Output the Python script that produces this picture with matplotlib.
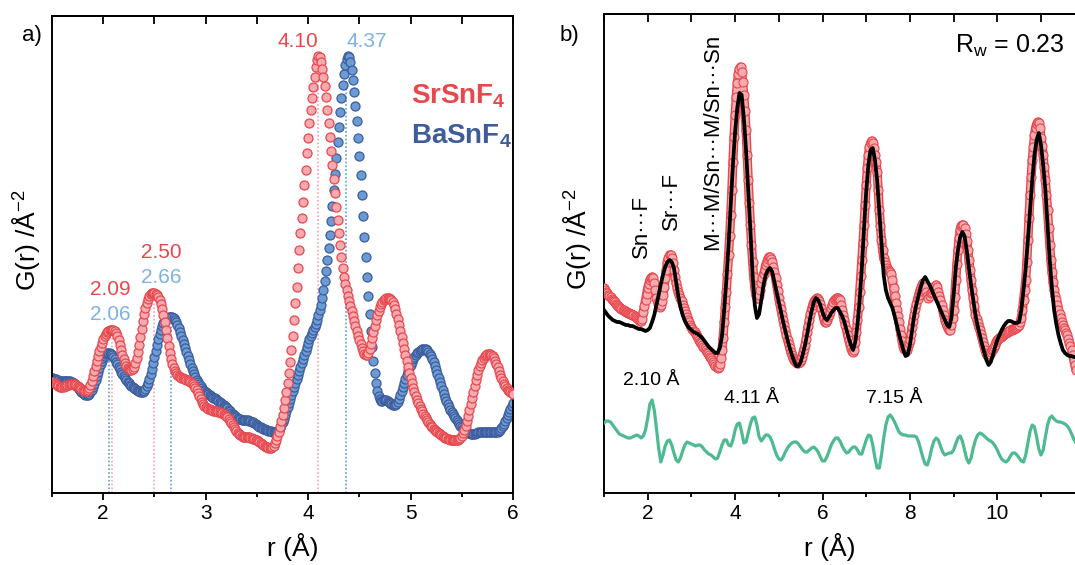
import numpy as np
import matplotlib
matplotlib.use("Agg")
import matplotlib.pyplot as plt

plt.rcParams['font.family'] = ['Liberation Sans', 'DejaVu Sans']
plt.rcParams['mathtext.fontset'] = 'custom'
plt.rcParams['mathtext.rm'] = 'Liberation Sans'
plt.rcParams['mathtext.it'] = 'Liberation Sans:italic'
plt.rcParams['mathtext.bf'] = 'Liberation Sans:bold'
plt.rcParams['mathtext.default'] = 'regular'

# ---------------- panel a data (r from 1.5 in steps of 0.0125 A) ----------------
r_a_start, r_a_step = 1.5, 0.0125
G_srsnf4 = [
    11.1, 11.1, 11.0, 10.9, 10.8, 10.7, 10.6, 10.6, 10.6, 10.6,
    10.7, 10.7, 10.8, 10.8, 10.9, 10.9, 10.9, 10.9, 10.9, 10.8,
    10.7, 10.6, 10.5, 10.4, 10.3, 10.2, 10.2, 10.2, 10.3, 10.5,
    10.8, 11.2, 11.7, 12.2, 12.7, 13.2, 13.7, 14.2, 14.6, 15.0,
    15.4, 15.7, 15.9, 16.1, 16.2, 16.3, 16.3, 16.3, 16.3, 16.2,
    16.0, 15.7, 15.3, 14.8, 14.3, 13.8, 13.4, 13.0, 12.7, 12.5,
    12.4, 12.3, 12.3, 12.4, 12.6, 13.0, 13.5, 14.1, 14.8, 15.6,
    16.4, 17.2, 17.9, 18.5, 19.0, 19.4, 19.7, 19.9, 20.0, 20.0,
    20.0, 19.9, 19.8, 19.6, 19.3, 18.9, 18.4, 17.8, 17.1, 16.3,
    15.5, 14.7, 14.0, 13.4, 12.9, 12.5, 12.2, 12.0, 11.8, 11.7,
    11.6, 11.5, 11.5, 11.4, 11.4, 11.3, 11.3, 11.2, 11.1, 11.0,
    10.9, 10.7, 10.5, 10.3, 10.0, 9.7, 9.4, 9.1, 8.9, 8.7,
    8.6, 8.5, 8.4, 8.4, 8.3, 8.3, 8.2, 8.2,
    8.2, 8.2, 8.1, 8.1, 8.0, 8.0, 7.9, 7.8,
    7.7, 7.6, 7.4, 7.2, 7.0, 6.8, 6.6, 6.4, 6.2, 6.0,
    5.9, 5.8, 5.7, 5.6, 5.6, 5.6, 5.6, 5.6, 5.6, 5.5,
    5.5, 5.4, 5.4, 5.3, 5.3, 5.2, 5.1, 5.0, 4.9, 4.8,
    4.7, 4.6, 4.6, 4.5, 4.5, 4.5, 4.6, 4.7, 5.0, 5.3,
    5.7, 6.1, 6.6, 7.2, 7.8, 8.5, 9.3, 10.1, 11.0, 12.0,
    13.1, 14.3, 15.7, 17.3, 19.0, 20.6, 22.5, 24.3, 26.0, 27.5,
    29.1, 30.8, 32.3, 34.0, 35.5, 37.0, 38.3, 39.5, 40.6, 41.6,
    42.6, 43.3, 43.7, 43.6, 43.1, 42.4, 41.6, 40.7, 39.6, 38.3,
    37.0, 35.6, 34.2, 32.8, 31.4, 30.0, 28.6, 27.3, 26.0, 24.8,
    23.6, 22.5, 21.6, 20.9, 20.3, 19.7, 19.2, 18.7, 18.2, 17.7,
    17.2, 16.7, 16.2, 15.7, 15.3, 14.9, 14.5, 14.2, 13.9, 13.8,
    13.8, 14.0, 14.4, 14.9, 15.5, 16.1, 16.7, 17.3, 17.8, 18.2,
    18.6, 18.9, 19.1, 19.3, 19.4, 19.5, 19.5, 19.5, 19.4, 19.3,
    19.1, 18.8, 18.4, 17.9, 17.4, 16.8, 16.2, 15.6, 15.0, 14.4,
    13.8, 13.2, 12.6, 12.0, 11.5, 11.0, 10.5, 10.1, 9.7, 9.3,
    9.0, 8.7, 8.4, 8.2, 7.9, 7.7, 7.5, 7.3, 7.1, 6.9,
    6.7, 6.6, 6.4, 6.3, 6.2, 6.1, 6.0, 5.9, 5.8, 5.7,
    5.6, 5.5, 5.5, 5.4, 5.4, 5.3, 5.3, 5.3, 5.3, 5.3,
    5.3, 5.3, 5.4, 5.5, 5.7, 6.0, 6.3, 6.7, 7.2, 7.7,
    8.3, 8.9, 9.5, 10.1, 10.7, 11.3, 11.8, 12.3, 12.7, 13.0,
    13.3, 13.5, 13.7, 13.8, 13.9, 13.9, 13.9, 13.8, 13.7, 13.5,
    13.2, 12.9, 12.6, 12.2, 11.8, 11.5, 11.2, 10.9, 10.7, 10.5,
    10.3, 10.2, 10.1, 10.0, 9.9,
]
G_basnf4 = [
    11.5, 11.5, 11.4, 11.4, 11.3, 11.3, 11.2, 11.2, 11.2, 11.2,
    11.2, 11.2, 11.2, 11.2, 11.2, 11.1, 11.1, 11.0, 10.9, 10.7,
    10.6, 10.4, 10.3, 10.1, 10.0, 9.9, 9.8, 9.8, 9.8, 9.9,
    10.1, 10.3, 10.6, 10.9, 11.3, 11.7, 12.1, 12.5, 12.9, 13.2,
    13.5, 13.7, 13.9, 14.0, 14.0, 14.0, 13.9, 13.8, 13.6, 13.4,
    13.1, 12.9, 12.6, 12.4, 12.1, 11.9, 11.7, 11.5, 11.3, 11.1,
    11.0, 10.8, 10.7, 10.6, 10.5, 10.4, 10.3, 10.2, 10.2, 10.1,
    10.1, 10.1, 10.2, 10.4, 10.7, 11.0, 11.4, 11.9, 12.4, 13.0,
    13.6, 14.2, 14.8, 15.4, 15.9, 16.3, 16.7, 17.0, 17.2, 17.4,
    17.5, 17.6, 17.6, 17.6, 17.6, 17.5, 17.3, 17.1, 16.8, 16.5,
    16.1, 15.7, 15.3, 14.9, 14.5, 14.1, 13.7, 13.3, 12.9, 12.5,
    12.2, 11.9, 11.6, 11.3, 11.1, 10.9, 10.7, 10.5, 10.3, 10.2,
    10.1, 10.0, 9.9, 9.8, 9.7, 9.6, 9.5, 9.5, 9.4, 9.3,
    9.2, 9.1, 9.0, 8.9, 8.8, 8.7, 8.6, 8.5, 8.3, 8.2,
    8.0, 7.9, 7.8, 7.7, 7.6, 7.5, 7.4, 7.4, 7.3, 7.3,
    7.3, 7.3, 7.3, 7.3, 7.2, 7.2, 7.1, 7.1, 7.0, 6.9,
    6.8, 6.7, 6.6, 6.6, 6.5, 6.4, 6.4, 6.3, 6.3, 6.2,
    6.2, 6.2, 6.1, 6.1, 6.1, 6.1, 6.2, 6.3, 6.5, 6.8,
    7.1, 7.4, 7.8, 8.2, 8.6, 9.0, 9.4, 9.8, 10.2, 10.6,
    11.0, 11.4, 11.8, 12.2, 12.6, 13.0, 13.4, 13.8, 14.2, 14.6,
    15.0, 15.4, 15.7, 16.0, 16.3, 16.6, 16.9, 17.3, 17.8, 18.3,
    18.8, 19.5, 20.3, 21.2, 22.2, 23.3, 24.5, 25.8, 27.2, 28.7,
    30.3, 31.9, 33.5, 35.1, 36.6, 38.1, 39.5, 40.8, 41.9, 42.8,
    43.4, 43.7, 43.6, 43.1, 42.3, 41.3, 40.1, 38.7, 37.2, 35.5,
    33.7, 31.8, 29.8, 27.7, 25.6, 23.6, 21.6, 19.7, 17.9, 16.2,
    14.6, 13.2, 12.0, 11.0, 10.2, 9.7, 9.4, 9.2, 9.2, 9.3,
    9.3, 9.3, 9.2, 9.1, 9.0, 8.9, 8.8, 8.8, 8.8, 8.9,
    9.1, 9.4, 9.8, 10.2, 10.6, 11.0, 11.4, 11.8, 12.2, 12.5,
    12.8, 13.1, 13.4, 13.6, 13.8, 14.0, 14.1, 14.2, 14.3, 14.4,
    14.4, 14.4, 14.4, 14.3, 14.1, 13.9, 13.7, 13.4, 13.1, 12.7,
    12.3, 11.9, 11.5, 11.1, 10.7, 10.3, 9.9, 9.5, 9.2, 8.9,
    8.6, 8.3, 8.1, 7.9, 7.7, 7.5, 7.3, 7.1, 6.9, 6.7,
    6.6, 6.4, 6.3, 6.2, 6.1, 6.0, 6.0, 5.9, 5.9, 5.9,
    5.9, 6.0, 6.0, 6.1, 6.1, 6.1, 6.1, 6.1, 6.1, 6.1,
    6.1, 6.1, 6.1, 6.1, 6.1, 6.1, 6.1, 6.1, 6.1, 6.2,
    6.3, 6.5, 6.7, 6.9, 7.2, 7.5, 7.8, 8.1, 8.4, 8.7,
    9.0,
]
peaks_sr = [2.09, 2.50, 4.10]
peaks_ba = [2.06, 2.66, 4.37]
peak_labels_sr = ["2.09", "2.50", "4.10"]
peak_labels_ba = ["2.06", "2.66", "4.37"]

# ---------------- panel b data ----------------
rb_obs_start, rb_obs_step = 1.0, 0.025
G_obs = [
    20.5, 20.3, 20.1, 20.0, 19.8, 19.7, 19.6, 19.4,
    19.3, 19.2, 19.1, 18.9, 18.8, 18.7, 18.6, 18.5,
    18.4, 18.3, 18.3, 18.2, 18.1, 18.1, 18.0, 18.0,
    17.9, 17.9, 17.8, 17.8, 17.7, 17.6, 17.5, 17.4,
    17.3, 17.2, 17.2, 17.4, 18.1, 18.7, 19.3, 19.9,
    20.5, 20.9, 21.3, 21.5, 21.6, 21.5, 21.0, 20.3,
    19.5, 19.1, 18.7, 18.6, 18.8, 19.2, 19.8, 20.6,
    21.5, 22.3, 23.1, 23.5, 23.8, 23.8, 23.5, 23.0,
    22.3, 21.6, 21.0, 20.5, 20.1, 19.8, 19.5, 19.2,
    18.8, 18.5, 18.2, 17.9, 17.6, 17.3, 17.1, 16.8,
    16.6, 16.4, 16.2, 16.1, 15.9, 15.7, 15.5, 15.3,
    15.1, 15.0, 14.8, 14.6, 14.5, 14.3, 14.1, 14.0,
    13.8, 13.6, 13.5, 13.3, 13.1, 12.9, 12.7, 12.6,
    12.5, 12.6, 12.9, 13.5, 14.3, 15.5, 17.1, 18.6,
    20.1, 21.9, 23.8, 25.7, 27.8, 30.3, 33.1, 35.6,
    37.8, 39.6, 41.0, 41.9, 42.4, 42.6, 42.1, 41.1,
    39.8, 38.2, 36.3, 33.8, 31.3, 29.0, 26.8, 24.8,
    23.1, 21.6, 20.5, 19.8, 19.5, 19.5, 19.8, 20.3,
    21.0, 21.5, 21.9, 22.3, 22.8, 23.1, 23.4, 23.6,
    23.6, 23.4, 23.1, 22.6, 22.1, 21.5, 20.8, 20.2,
    19.5, 18.9, 18.4, 17.8, 17.3, 16.8, 16.3, 15.8,
    15.3, 14.9, 14.5, 14.1, 13.8, 13.5, 13.3, 13.2,
    13.1, 13.0, 13.0, 13.1, 13.3, 13.6, 14.0, 14.4,
    14.8, 15.4, 16.1, 16.7, 17.3, 17.9, 18.4, 18.8,
    19.1, 19.3, 19.4, 19.5, 19.4, 19.2, 18.9, 18.5,
    18.0, 17.5, 17.1, 17.1, 17.3, 17.6, 17.8, 18.1,
    18.5, 18.8, 19.1, 19.3, 19.4, 19.5, 19.5, 19.4,
    19.3, 18.8, 18.3, 17.8, 17.3, 16.8, 16.3, 15.8,
    15.3, 14.9, 14.5, 14.2, 14.1, 14.3, 15.1, 16.1,
    17.3, 18.6, 20.1, 21.7, 23.3, 25.0, 26.8, 28.8,
    30.8, 32.5, 33.8, 34.6, 35.0, 35.2, 35.0, 34.5,
    33.8, 33.1, 32.1, 30.3, 28.3, 26.7, 25.3, 24.3,
    23.5, 23.1, 22.8, 22.5, 22.3, 22.2, 22.1, 21.9,
    21.3, 20.5, 19.7, 19.0, 18.3, 17.7, 17.1, 16.4,
    15.8, 15.2, 14.7, 14.4, 14.3, 14.3, 14.7, 15.0,
    15.3, 15.9, 16.6, 17.2, 17.8, 18.4, 18.9, 19.4,
    19.8, 20.2, 20.5, 20.8, 21.0, 20.9, 20.6, 20.1,
    19.7, 19.5, 19.7, 20.0, 20.1, 20.3, 20.5, 20.7,
    20.8, 20.6, 20.1, 19.7, 19.3, 18.8, 18.3, 17.8,
    17.3, 17.0, 16.7, 16.5, 16.3, 16.3, 16.8, 17.5,
    18.3, 19.6, 21.3, 22.9, 24.3, 25.5, 26.3, 26.7,
    26.8, 26.8, 26.5, 25.9, 25.2, 24.3, 23.3, 22.3,
    21.3, 20.3, 19.5, 18.7, 17.8, 17.4, 17.0, 16.6,
    16.3, 15.9, 15.5, 15.1, 14.7, 14.3, 14.0, 13.8,
    13.8, 13.9, 14.1, 14.3, 14.4, 14.6, 14.8, 15.1,
    15.3, 15.4, 15.5, 15.6, 15.7, 15.8, 15.9, 16.0,
    16.0, 16.1, 16.1, 16.2, 16.3, 16.3, 16.4, 16.4,
    16.5, 16.5, 16.6, 16.7, 16.8, 17.1, 17.5, 18.3,
    19.3, 20.3, 21.3, 23.1, 25.3, 27.5, 29.8, 31.6,
    33.3, 34.6, 35.8, 36.5, 36.9, 37.1, 37.0, 36.5,
    35.5, 34.7, 33.8, 32.6, 31.3, 29.8, 28.3, 26.5,
    24.8, 23.3, 22.1, 21.1, 20.3, 19.7, 19.3, 18.8,
    18.3, 17.9, 17.5, 17.1, 16.8, 16.5, 16.3, 16.0,
    15.8, 15.4, 15.0, 14.7, 14.3, 13.8, 13.3, 12.8,
    12.3,
]
rb_line_start, rb_line_step = 1.0, 0.05
G_calc = [
    18.3, 18.0, 17.7, 17.5, 17.3, 17.2, 17.1, 17.1, 17.0, 16.9,
    16.8, 16.8, 16.7, 16.7, 16.6, 16.5, 16.4, 16.4, 16.3, 16.2,
    16.3, 16.5, 17.1, 17.8, 18.8, 19.8, 20.9, 21.8, 22.6, 23.1,
    23.3, 23.1, 22.5, 21.1, 19.7, 18.6, 17.8, 17.2, 16.8, 16.5,
    16.3, 16.1, 16.0, 15.9, 15.7, 15.5, 15.2, 14.9, 14.6, 14.4,
    14.2, 14.0, 14.0, 14.5, 15.7, 18.3, 21.3, 24.8, 28.8, 32.8,
    36.1, 38.5, 40.0, 39.8, 37.5, 34.3, 30.3, 26.3, 21.8, 18.8,
    17.5, 17.9, 19.3, 20.8, 21.8, 22.3, 22.5, 22.1, 21.1, 20.1,
    19.1, 18.1, 17.1, 16.2, 15.3, 14.5, 13.8, 13.2, 12.7, 12.7,
    13.1, 13.9, 14.8, 15.9, 17.1, 18.2, 19.1, 19.5, 19.3, 18.8,
    18.1, 17.5, 17.3, 17.6, 18.0, 18.3, 18.5, 18.5, 18.1, 17.7,
    17.1, 16.3, 15.5, 14.8, 14.3, 15.1, 16.8, 19.3, 22.5, 26.5,
    30.1, 32.8, 34.3, 34.5, 33.3, 31.3, 28.1, 24.8, 21.8, 20.3,
    19.5, 19.0, 18.5, 17.7, 16.8, 15.9, 15.1, 14.3, 13.7, 13.8,
    14.8, 16.3, 17.8, 18.9, 19.8, 20.6, 21.3, 21.6, 21.2, 20.8,
    20.3, 19.8, 19.3, 18.8, 18.3, 17.8, 17.3, 16.8, 16.6, 17.5,
    19.8, 22.5, 24.3, 25.6, 26.1, 25.7, 24.3, 22.5, 20.8, 19.3,
    17.8, 16.7, 15.8, 14.9, 14.1, 13.3, 12.8, 13.1, 13.8, 14.6,
    15.3, 15.8, 16.3, 16.7, 17.0, 17.2, 17.2, 17.1, 17.0, 17.0,
    17.1, 18.3, 20.3, 22.5, 25.3, 28.3, 31.3, 33.8, 35.3, 36.0,
    34.8, 32.8, 30.3, 26.8, 23.3, 20.5, 18.3, 16.9, 15.8, 15.0,
    14.3, 14.0, 13.8, 13.7, 13.7, 13.6, 13.6,
]
G_diff = [
    7.0, 7.2, 7.2, 7.1, 6.8, 6.5, 6.2, 5.9, 5.8, 5.7,
    5.6, 5.5, 5.5, 5.6, 5.7, 5.8, 5.7, 5.5, 5.7, 6.3,
    7.5, 8.9, 9.3, 8.3, 6.5, 4.5, 3.1, 3.8, 4.7, 5.2,
    5.3, 4.8, 4.0, 3.3, 3.1, 3.5, 4.2, 4.8, 5.1, 5.0,
    4.9, 4.8, 4.7, 4.8, 4.8, 4.6, 4.3, 4.1, 3.9, 3.8,
    3.6, 3.4, 3.5, 4.1, 4.8, 5.3, 5.3, 4.8, 4.7, 5.3,
    6.3, 6.9, 7.0, 6.1, 5.0, 5.1, 6.0, 6.9, 7.5, 7.6,
    6.8, 5.6, 5.2, 5.5, 5.8, 5.8, 5.6, 5.1, 4.4, 3.8,
    3.4, 3.3, 3.6, 4.1, 4.5, 4.8, 5.0, 5.1, 5.1, 4.9,
    4.6, 4.3, 4.1, 4.1, 4.3, 4.5, 4.6, 4.4, 4.1, 3.6,
    3.2, 3.2, 3.6, 4.2, 4.8, 5.2, 5.5, 5.5, 5.2, 4.7,
    4.3, 4.0, 4.1, 4.4, 4.6, 4.6, 4.3, 3.9, 3.9, 4.6,
    5.3, 5.8, 5.7, 4.8, 3.5, 2.5, 2.5, 3.8, 5.5, 6.8,
    7.6, 7.8, 7.5, 7.1, 6.6, 6.1, 5.9, 5.8, 5.8, 5.7,
    5.7, 5.7, 5.7, 5.6, 5.1, 4.3, 3.5, 2.9, 2.8, 3.5,
    4.5, 5.2, 5.5, 5.3, 4.7, 4.1, 3.8, 3.9, 4.0, 4.0,
    4.3, 4.9, 5.5, 5.7, 5.2, 4.3, 3.4, 3.0, 3.5, 4.5,
    5.3, 5.8, 6.0, 5.9, 5.7, 5.5, 5.3, 5.2, 5.0, 4.7,
    4.3, 3.8, 3.4, 3.2, 3.1, 3.3, 3.7, 4.0, 4.0, 3.8,
    3.5, 3.2, 3.1, 3.8, 5.0, 6.2, 6.8, 6.6, 5.6, 4.4,
    3.8, 4.3, 5.6, 6.8, 7.5, 7.7, 7.4, 7.2, 7.1, 7.1,
    7.0, 6.9, 6.7, 6.4, 5.9, 5.4, 5.0,
]
bond_labels = ["Sn\u00b7\u00b7\u00b7F", "Sr\u00b7\u00b7\u00b7F",
               "M\u00b7\u00b7\u00b7M/Sn\u00b7\u00b7\u00b7M/Sn\u00b7\u00b7\u00b7Sn"]
bond_r = [1.85, 2.54, 3.49]
bond_G = [23.5, 26.3, 24.3]
diff_labels = ["2.10 \u00c5", "4.11 \u00c5", "7.15 \u00c5"]
diff_label_r = [2.07, 4.37, 7.65]
diff_label_G = [10.8, 9.0, 9.0]
rw_text = "R$_{w}$ = 0.23"

# ---------------- styling ----------------
RED_E, RED_F = '#E8474D', '#F5AAB0'
BLUE_E, BLUE_F = '#3E5C9C', '#6A9CD3'
RED_TXT, BLUE_TXT = '#E8474D', '#7FB2E2'
RED_DOT, BLUE_DOT = '#F3A3AA', '#5B9BD8'
GREEN = '#4DBA92'

r_a_sr = r_a_start + r_a_step * np.arange(len(G_srsnf4))
r_a_ba = r_a_start + r_a_step * np.arange(len(G_basnf4))
G_sr = np.array(G_srsnf4)
G_ba = np.array(G_basnf4)
r_obs = rb_obs_start + rb_obs_step * np.arange(len(G_obs))
r_calc = rb_line_start + rb_line_step * np.arange(len(G_calc))
r_diff = rb_line_start + rb_line_step * np.arange(len(G_diff))

W, H = 1075, 565
fig = plt.figure(figsize=(W / 100, H / 100), dpi=100)
axa = fig.add_axes([52 / W, (H - 493) / H, 461 / W, 477 / H])
axb = fig.add_axes([604 / W, (H - 493) / H, 480.7 / W, 479 / H])


def style_axes(ax, major, minor, top_ticks):
    for s in ax.spines.values():
        s.set_linewidth(1.4)
    ax.set_xticks(major)
    ax.set_xticks(minor, minor=True)
    ax.tick_params(axis='x', which='major', direction='out', length=5, width=1.3,
                   labelsize=15, pad=3, top=False)
    ax.tick_params(axis='x', which='minor', direction='out', length=2.6, width=1.3, top=False)
    ax.tick_params(axis='y', which='both', left=False, right=False, labelleft=False)
    sec = ax.secondary_xaxis('top')
    sec.set_xticks(top_ticks)
    sec.tick_params(axis='x', which='major', direction='in', length=5.5, width=1.3,
                    labeltop=False, labelbottom=False)
    sec.spines['top'].set_linewidth(1.4)


# ---------------- panel a ----------------
axa.set_xlim(1.5, 6.0)
axa.set_ylim(0, 47.7)
for pos in peaks_ba:
    h = G_ba[np.argmin(np.abs(r_a_ba - pos))]
    axa.plot([pos, pos], [0, h], color=BLUE_DOT, lw=1.2, ls=(0, (1, 1.3)), zorder=1)
for pos in peaks_sr:
    h = G_sr[np.argmin(np.abs(r_a_sr - pos))]
    axa.plot([pos, pos], [0, h], color=RED_DOT, lw=1.2, ls=(0, (1, 1.3)), zorder=1)
axa.plot(r_a_ba, G_ba, 'o', ms=6.5, mfc=BLUE_F, mec=BLUE_E, mew=0.9, zorder=2)
axa.plot(r_a_sr, G_sr, 'o', ms=6.5, mfc=RED_F, mec=RED_E, mew=0.9, zorder=3)

style_axes(axa, [2, 3, 4, 5, 6], [1.5, 2.5, 3.5, 4.5, 5.5],
           [2, 2.5, 3, 3.5, 4, 4.5, 5, 5.5, 6])
axa.set_xlabel("r (\u00c5)", fontsize=19)
axa.xaxis.set_label_coords((292.5 - 52) / 461, -40 / 477)
axa.xaxis.label.set_va('top')
axa.set_ylabel("G(r) /\u00c5$^{-2}$", fontsize=19)
axa.yaxis.set_label_coords(-10 / 461, 0.53)

lab_kw = dict(fontsize=15)
axa.text(4.10, 44.6, peak_labels_sr[2], color=RED_TXT, ha='right', va='baseline', **lab_kw)
axa.text(4.37, 44.6, peak_labels_ba[2], color=BLUE_TXT, ha='left', va='baseline', **lab_kw)
axa.text(2.57, 23.5, peak_labels_sr[1], color=RED_TXT, ha='center', va='baseline', **lab_kw)
axa.text(2.57, 21.0, peak_labels_ba[1], color=BLUE_TXT, ha='center', va='baseline', **lab_kw)
axa.text(2.07, 19.8, peak_labels_sr[0], color=RED_TXT, ha='center', va='baseline', **lab_kw)
axa.text(2.07, 17.3, peak_labels_ba[0], color=BLUE_TXT, ha='center', va='baseline', **lab_kw)

axa.text(5.0, 39.0, r"SrSnF$_\mathbf{4}$", color=RED_E, fontsize=20, fontweight='bold',
         ha='left', va='baseline')
axa.text(5.0, 35.0, r"BaSnF$_\mathbf{4}$", color=BLUE_E, fontsize=20, fontweight='bold',
         ha='left', va='baseline')

# ---------------- panel b ----------------
axb.set_xlim(1.0, 12.0)
axb.set_ylim(0, 47.9)
axb.plot(r_obs, G_obs, color=RED_E, lw=6.6, solid_capstyle='round', zorder=2)
axb.plot(r_obs, G_obs, color=RED_F, lw=4.6, solid_capstyle='round', zorder=2.1)
axb.plot(r_obs, G_obs, 'o', ms=6.5, mfc=RED_F, mec=RED_E, mew=0.8, zorder=3)
axb.plot(r_calc, G_calc, color='black', lw=2.7, zorder=4)
axb.plot(r_diff, G_diff, color=GREEN, lw=2.3, zorder=4)

style_axes(axb, [2, 4, 6, 8, 10], [1, 3, 5, 7, 9, 11], list(range(1, 13)))
axb.set_xlabel("r (\u00c5)", fontsize=19)
axb.xaxis.set_label_coords((830 - 604) / 480.7, -40 / 479)
axb.xaxis.label.set_va('top')
axb.set_ylabel("G(r) /\u00c5$^{-2}$", fontsize=19)
axb.yaxis.set_label_coords(-11 / 480.7, 0.53)

for txt, x, y in zip(bond_labels, bond_r, bond_G):
    axb.text(x, y, txt, rotation=90, ha='center', va='bottom', fontsize=16)
for txt, x, y in zip(diff_labels, diff_label_r, diff_label_G):
    axb.text(x, y, txt, ha='center', va='baseline', fontsize=14)
axb.text(9.04, 44.0, rw_text, ha='left', va='baseline', fontsize=18)

fig.text(22 / W, 1 - 25 / H, "a)", fontsize=16, ha='left', va='top')
fig.text(560 / W, 1 - 25 / H, "b)", fontsize=16, ha='left', va='top')

fig.savefig("out.png", dpi=100)
